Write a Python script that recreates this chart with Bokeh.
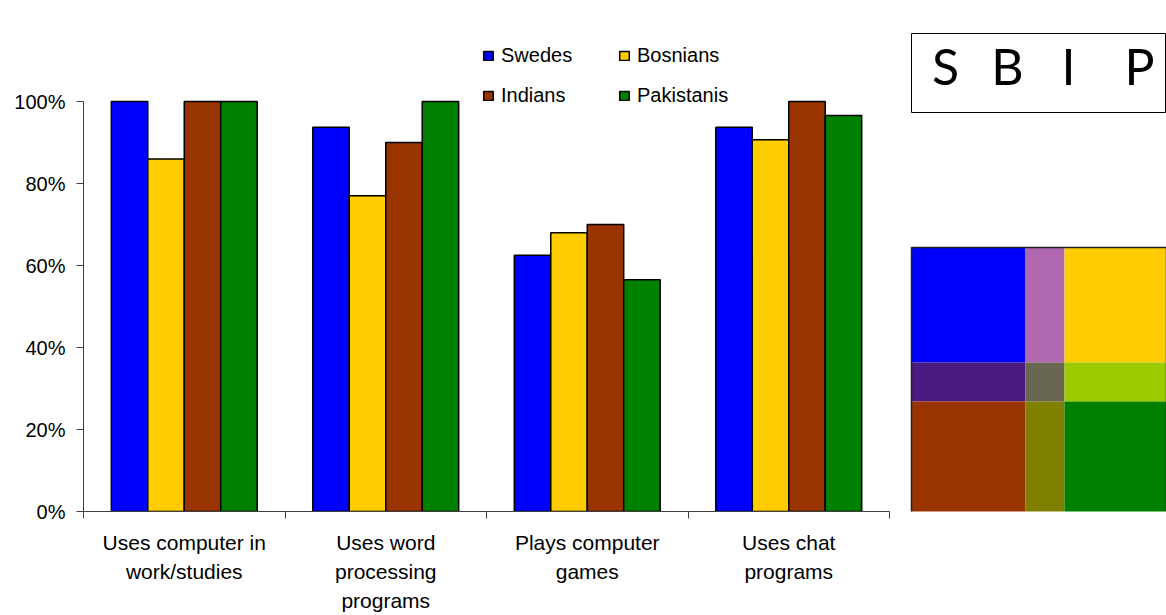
from bokeh.plotting import figure
from bokeh.models import Range1d, FixedTicker, NumeralTickFormatter, Legend, LegendItem
from bokeh.embed import file_html
from bokeh.resources import INLINE
from bokeh.core.properties import value

# ---------------- data ----------------
categories = ["Uses computer in\nwork/studies", "Uses word\nprocessing\nprograms",
              "Plays computer\ngames", "Uses chat\nprograms"]
series = ["Swedes", "Bosnians", "Indians", "Pakistanis"]
swedes = [1.00, 0.9375, 0.625, 0.9375]
bosnians = [0.86, 0.77, 0.68, 0.907]
indians = [1.00, 0.90, 0.70, 1.00]
pakistanis = [1.00, 1.00, 0.565, 0.966]
colors = ["#0000FF", "#FFCC00", "#993300", "#008000"]
y_ticks = [0, 0.2, 0.4, 0.6, 0.8, 1.0]

# logo (SBIP box) and colour-mixing grid, in page pixels
logo_letters = ["S", "B", "I", "P"]
logo_x = [945, 1007, 1068, 1139]
grid_col_edges = [911, 1025, 1064, 1166]
grid_row_edges = [247, 362, 401, 514]
grid_colors = [["#0000FF", "#B069B0", "#FFCC00"],
               ["#4B1A80", "#686550", "#9ECB00"],
               ["#993300", "#808000", "#008000"]]

FONT = "Liberation Sans"

# canvas 1166 x 615; frame: x 83..1166, y 30..511 ; one category = 201.5 px, 100% = 410 px
W, H = 1166, 615
FR_L, FR_R, FR_T, FR_B = 83, 1166, 30, 511
CAT_PX, PCT_PX = 201.5, 410.0

p = figure(width=W, height=H,
           x_range=Range1d(0, (FR_R - FR_L) / CAT_PX),
           y_range=Range1d(0, (FR_B - FR_T) / PCT_PX),
           output_backend="svg", toolbar_location=None,
           min_border_left=FR_L, min_border_right=W - FR_R,
           min_border_top=FR_T, min_border_bottom=H - FR_B)
p.extra_x_ranges = {"px": Range1d(FR_L, FR_R)}
p.extra_y_ranges = {"px": Range1d(FR_B, FR_T)}
p.xgrid.visible = False
p.ygrid.visible = False
p.outline_line_color = None

values = [swedes, bosnians, indians, pakistanis]
offsets = [-0.2715, -0.0905, 0.0905, 0.2715]
renderers = []
for vals, off, col in zip(values, offsets, colors):
    xs = [i + 0.5 + off for i in range(len(categories))]
    r = p.vbar(x=xs, top=vals, width=0.181, bottom=0, fill_color=col,
               line_color="black", line_width=1.5)
    renderers.append(r)

# y axis
p.yaxis.bounds = (0, 1)
p.yaxis.ticker = FixedTicker(ticks=y_ticks)
p.yaxis.formatter = NumeralTickFormatter(format="0%")
p.yaxis.major_tick_out = 7
p.yaxis.major_tick_in = 0
p.yaxis.minor_tick_out = 0
p.yaxis.minor_tick_in = 0
p.yaxis.major_label_text_font = FONT
p.yaxis.major_label_text_font_size = "20px"
p.yaxis.major_label_text_color = "black"
p.yaxis.major_label_standoff = 11
p.yaxis.axis_line_color = "#404040"
p.yaxis.major_tick_line_color = "#404040"

# x axis: labels at category centres, ticks at category boundaries
centers = [i + 0.5 for i in range(len(categories))]
bounds = [i for i in range(len(categories) + 1)]
p.xaxis.bounds = (0, len(categories))
p.xaxis.ticker = FixedTicker(ticks=centers, minor_ticks=bounds)
p.xaxis.major_label_overrides = {c: lab for c, lab in zip(centers, categories)}
p.xaxis.major_tick_out = 0
p.xaxis.major_tick_in = 0
p.xaxis.minor_tick_out = 7
p.xaxis.minor_tick_in = 0
p.xaxis.major_label_text_font = FONT
p.xaxis.major_label_text_font_size = "21px"
p.xaxis.major_label_text_color = "black"
p.xaxis.major_label_text_line_height = 1.28
p.xaxis.major_label_standoff = 12
p.xaxis.axis_line_color = "#404040"
p.xaxis.minor_tick_line_color = "#404040"

# legend
order = [0, 2, 1, 3]
items = [LegendItem(label=series[k], renderers=[renderers[k]]) for k in order]
legend = Legend(items=items, location=(399, 404), ncols=2,
                label_text_font=FONT, label_text_font_size="20px", label_text_color="black",
                glyph_width=12, glyph_height=11, label_standoff=7,
                label_width=100, label_height=23, spacing=17, padding=0, margin=0,
                border_line_alpha=0, background_fill_alpha=0)
p.add_layout(legend)

# logo box
p.quad(left=[911], right=[1165], top=[33], bottom=[112], fill_color=None,
       line_color="black", line_width=1, x_range_name="px", y_range_name="px")
p.text(x=logo_x, y=[65] * len(logo_x), text=logo_letters,
       text_font=value("Lato"), text_font_size="50px",
       text_align="center", text_baseline="middle", text_color="black",
       x_range_name="px", y_range_name="px")

# colour grid
ql, qr, qt, qb, qc = [], [], [], [], []
for ri in range(3):
    for ci in range(3):
        ql.append(grid_col_edges[ci])
        qr.append(grid_col_edges[ci + 1])
        qt.append(grid_row_edges[ri])
        qb.append(grid_row_edges[ri + 1])
        qc.append(grid_colors[ri][ci])
p.quad(left=ql, right=qr, top=qt, bottom=qb, fill_color=qc, line_color=None,
       x_range_name="px", y_range_name="px")
p.quad(left=[grid_col_edges[0]], right=[grid_col_edges[-1]], top=[grid_row_edges[0]],
       bottom=[grid_row_edges[-1]], fill_color=None, line_color="#222222", line_width=1.5,
       x_range_name="px", y_range_name="px")

open("out.html", "w").write(file_html(p, INLINE))
